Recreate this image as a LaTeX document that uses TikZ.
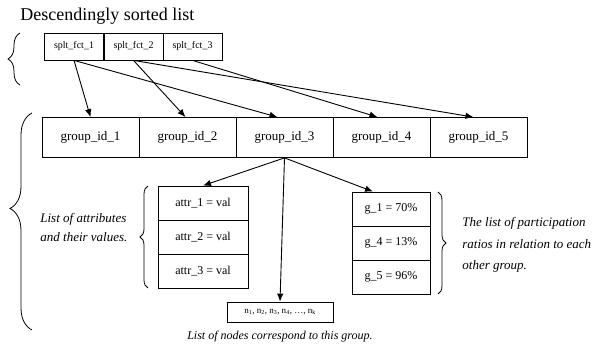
\documentclass[tikz,border=0pt]{standalone}
\usepackage{fontspec}
\setmainfont{Liberation Serif}
\usepackage{tikz}
\usetikzlibrary{arrows.meta,decorations.pathreplacing}

\begin{document}
\begin{tikzpicture}[
            x=1pt, y=-1pt,
            line width=0.8pt,
            cell/.style={rectangle, draw, inner sep=0pt},
            spltcell/.style={cell, minimum width=59pt, minimum height=27pt, font=\fontsize{10}{12}\selectfont},
            groupcell/.style={cell, minimum width=97pt, minimum height=40pt, font=\fontsize{13}{15}\selectfont},
            attrcell/.style={cell, minimum width=90pt, minimum height=34pt, font=\fontsize{12}{14}\selectfont},
            ratiocell/.style={cell, minimum width=78pt, minimum height=34pt, font=\fontsize{12}{14}\selectfont},
            note/.style={inner sep=0pt, align=left, font=\fontsize{13}{19}\selectfont\itshape},
            curly/.style={decorate, decoration={brace, amplitude=#1}, line width=0.8pt},
            arr/.style={-{Latex[length=8pt, width=6.5pt]}, line width=0.9pt}
        ]
            \useasboundingbox (0,0) rectangle (598,347);
            % Title
            \node[anchor=base west, inner sep=0pt, font=\fontsize{18}{20}\selectfont] (title) at (20,21) {Descendingly sorted list};
            % Sorted list
            \node[spltcell] (s1) at ( 74.0,46.5) {splt\_fct\_1};
            \node[spltcell] (s2) at (133.5,46.5) {splt\_fct\_2};
            \node[spltcell] (s3) at (192.5,46.5) {splt\_fct\_3};
            % Groups
            \node[groupcell] (g1) at ( 90.5,137.5) {group\_id\_1};
            \node[groupcell] (g2) at (187.5,137.5) {group\_id\_2};
            \node[groupcell] (g3) at (284.5,137.5) {group\_id\_3};
            \node[groupcell] (g4) at (381.5,137.5) {group\_id\_4};
            \node[groupcell] (g5) at (478.5,137.5) {group\_id\_5};
            % Attributes
            \node[attrcell] (a1) at (203,203) {attr\_1 = val};
            \node[attrcell] (a2) at (203,237) {attr\_2 = val};
            \node[attrcell] (a3) at (203,271) {attr\_3 = val};
            % Ratios
            \node[ratiocell] (r1) at (391,209) {g\_1 = 70\%};
            \node[ratiocell] (r2) at (391,243) {g\_4 = 13\%};
            \node[ratiocell] (r3) at (391,277) {g\_5 = 96\%};
            % Nodes of the group
            \node[cell, minimum width=106pt, minimum height=20pt, font=\fontsize{9}{11}\selectfont] (nl) at (280,312)
                {n\textsubscript{1}, n\textsubscript{2}, n\textsubscript{3}, n\textsubscript{4}, \ldots, n\textsubscript{k}};
            % Notes
            \node[note, anchor=west] (attrnote) at (40,228) {List of attributes\\and their values.};
            \node[note, anchor=west, font=\fontsize{13}{21.5}\selectfont\itshape] (rationote) at (462,245)
                {The list of participation\\ratios in relation to each\\other group.};
            \node[inner sep=0pt, font=\fontsize{12}{14}\selectfont\itshape] (nlnote) at (280,337) {List of nodes correspond to this group.};
            % Braces
            \draw[curly=12] (20,85) -- (20,33);
            \draw[curly=22, decoration={aspect=0.56}] (32,330) -- (32,113);
            \draw[curly=8] (148,288) -- (148,186);
            \draw[curly=8] (438,192) -- (438,294);
            % Arrows
            \draw[arr] (s1.south) -- (g1.north);
            \draw[arr] (s1.south) -- ([xshift=-7pt]g3.north);
            \draw[arr] (s2.south) -- ([xshift=-2pt]g2.north);
            \draw[arr] (s2.south) -- ([xshift=-5pt]g5.north);
            \draw[arr] (s3.south) -- ([xshift=-4pt]g4.north);
            \draw[arr] (g3.south) -- (a1.north);
            \draw[arr] (g3.south) -- (nl.north);
            \draw[arr] (g3.south) -- ([xshift=-18pt]r1.north);
        \end{tikzpicture}
\end{document}
